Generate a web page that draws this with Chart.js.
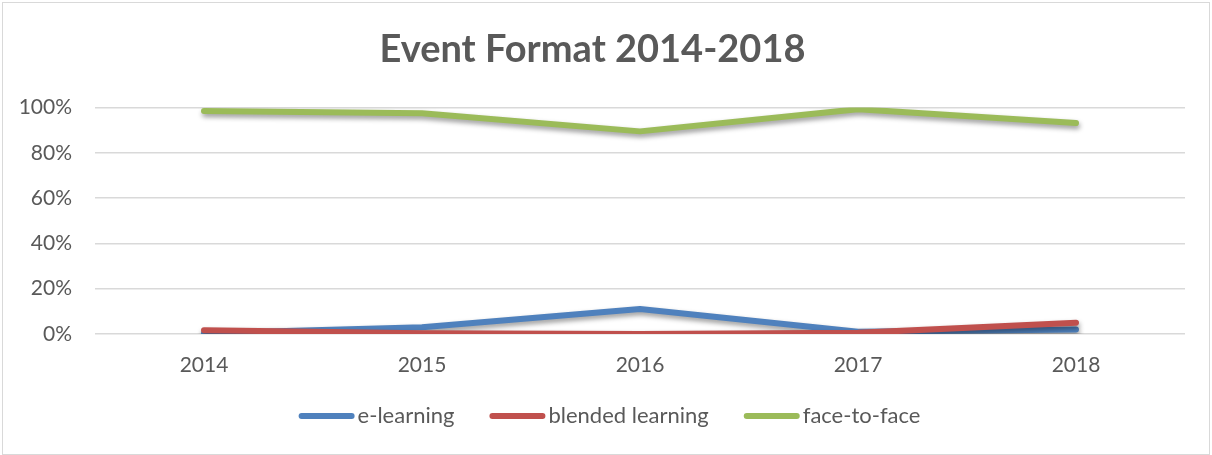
<!DOCTYPE html>
<html>
<head>
<meta charset="utf-8">
<script src="https://cdn.jsdelivr.net/npm/chart.js@4"></script>
<style>
html,body{margin:0;padding:0;background:#fff;}
#wrap{position:relative;width:1212px;height:455px;}
</style>
</head>
<body>
<div id="wrap"><canvas id="c" width="1212" height="455"></canvas></div>
<script>
const categories = ['2014','2015','2016','2017','2018'];
const eLearning = [0.3, 3, 11, 1, 2];
const blendedLearning = [1.7, 0.3, 0, 0.5, 5];
const faceToFace = [98.5, 97.5, 89.5, 99.3, 93.2];
const yTicks = [0, 20, 40, 60, 80, 100];

const TEXT = '#595959';
const FONT = 'Lato, "Open Sans", sans-serif';
const LEGEND_SIZE = 22;
const LEGEND_DX = 17;
const LEGEND_DY = -16;

const borderPlugin = {
  id: 'frame',
  beforeDraw(chart) {
    const ctx = chart.ctx;
    ctx.save();
    ctx.fillStyle = '#fff';
    ctx.fillRect(0, 0, chart.width, chart.height);
    ctx.strokeStyle = '#d9d9d9';
    ctx.lineWidth = 1;
    ctx.strokeRect(2.5, 2.5, chart.width - 5, chart.height - 3);
    ctx.restore();
  }
};
const shadowPlugin = {
  id: 'shadow',
  beforeDatasetsDraw(chart) {
    const ctx = chart.ctx;
    ctx.save();
    ctx.shadowColor = 'rgba(0,0,0,0.4)';
    ctx.shadowBlur = 5;
    ctx.shadowOffsetX = 1;
    ctx.shadowOffsetY = 3;
  },
  afterDatasetsDraw(chart) {
    chart.ctx.restore();
  }
};
// move the legend box so it sits like the original
const legendShift = {
  id: 'legendShift',
  afterUpdate(chart) {
    const lg = chart.legend;
    if (!lg) return;
    lg.left += LEGEND_DX;
    lg.right += LEGEND_DX;
    lg.top += LEGEND_DY;
    lg.bottom += LEGEND_DY;
    (lg.legendHitBoxes || []).forEach(hb => { hb.left += LEGEND_DX; hb.top += LEGEND_DY; });
  }
};
// draws the legend line markers, stretched up close to the label text
const legendMarkers = {
  id: 'legendMarkers',
  afterDraw(chart) {
    const lg = chart.legend;
    if (!lg || !lg.legendHitBoxes) return;
    const ctx = chart.ctx;
    const bw = lg.options.labels.boxWidth;
    ctx.save();
    ctx.lineWidth = 6;
    ctx.lineCap = 'round';
    lg.legendItems.forEach((it, i) => {
      const hb = lg.legendHitBoxes[i];
      const y = hb.top + hb.height / 2;
      const x0 = hb.left + 3;
      const x1 = hb.left + bw + LEGEND_SIZE / 2 - 6;
      ctx.strokeStyle = chart.data.datasets[it.datasetIndex].borderColor;
      ctx.beginPath();
      ctx.moveTo(x0, y);
      ctx.lineTo(x1, y);
      ctx.stroke();
    });
    ctx.restore();
  }
};

function ds(label, data, color, order) {
  return {
    label, data, order,
    borderColor: color, backgroundColor: color,
    borderWidth: 6, borderCapStyle: 'round', borderJoinStyle: 'round',
    pointRadius: 0, pointHoverRadius: 0, tension: 0, fill: false
  };
}

new Chart(document.getElementById('c'), {
  type: 'line',
  data: {
    labels: categories,
    datasets: [
      ds('e-learning', eLearning, '#4f81bd', 1),
      ds('blended learning', blendedLearning, '#c0504d', 0),
      ds('face-to-face', faceToFace, '#9bbb59', 2)
    ]
  },
  options: {
    responsive: false,
    animation: false,
    devicePixelRatio: 1,
    layout: { padding: { left: 0, right: 27, top: 0, bottom: 2 } },
    plugins: {
      tooltip: { enabled: false },
      title: {
        display: true,
        text: 'Event Format 2014-2018',
        color: TEXT,
        font: { family: FONT, size: 38, weight: 'bold' },
        padding: { top: 27, bottom: 35 }
      },
      legend: {
        position: 'bottom',
        labels: {
          color: TEXT,
          font: { family: FONT, size: LEGEND_SIZE },
          boxWidth: 48, boxHeight: 6,
          padding: 35,
          sort: (a, b) => a.datasetIndex - b.datasetIndex,
          generateLabels(chart) {
            const items = Chart.defaults.plugins.legend.labels.generateLabels(chart);
            items.forEach(it => { it.lineWidth = 0; it.strokeStyle = 'rgba(0,0,0,0)'; it.fillStyle = 'rgba(0,0,0,0)'; });
            return items;
          }
        }
      }
    },
    scales: {
      x: {
        offset: true,
        grid: { display: false, drawTicks: false },
        border: { display: false },
        ticks: { color: TEXT, font: { family: FONT, size: 21 }, padding: 19 },
        afterFit(s) { s.height = 52; }
      },
      y: {
        min: 0, max: 100,
        afterBuildTicks(s) { s.ticks = yTicks.map(v => ({ value: v })); },
        grid: { color: '#d9d9d9', lineWidth: 1.5, drawTicks: false },
        border: { display: false },
        ticks: { color: TEXT, font: { family: FONT, size: 21 }, padding: 23, callback: v => v + '%' },
        afterFit(s) { s.width = 95; }
      }
    }
  },
  plugins: [borderPlugin, shadowPlugin, legendShift, legendMarkers]
});
</script>
</body>
</html>
